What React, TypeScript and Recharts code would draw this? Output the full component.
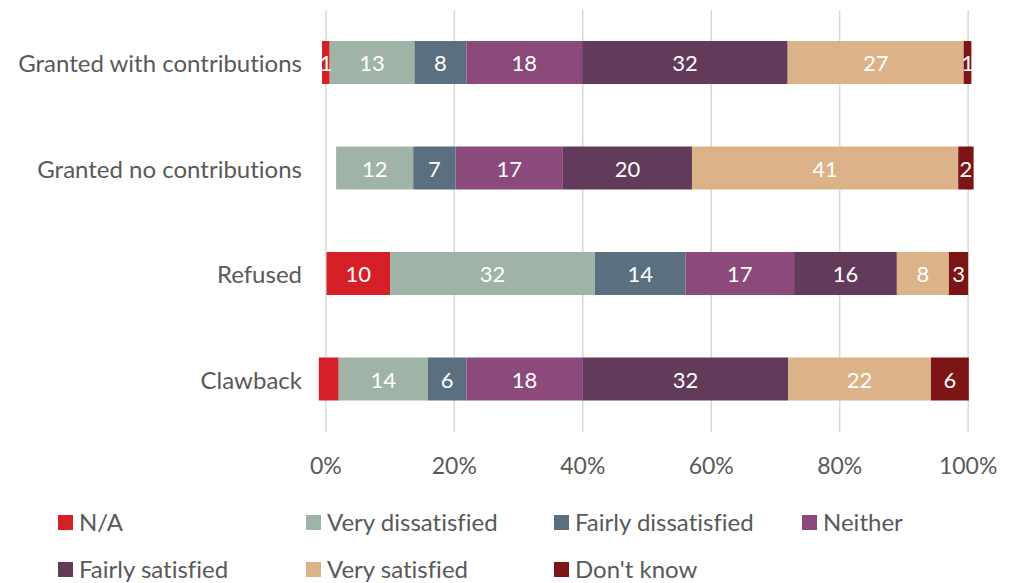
import React from 'react';
import { BarChart, Bar, XAxis, YAxis, CartesianGrid, LabelList } from 'recharts';

const categories = ['Granted with contributions', 'Granted no contributions', 'Refused', 'Clawback'];
// where each bar begins on the axis (bars are slightly offset in the source)
const barStart = [-0.6, 1.6, 0.1, -1.1];
const naValues = [1.2, 0, 9.9, 3.1];
const veryDissatisfied = [13.2, 12.0, 31.9, 13.9];
const fairlyDissatisfied = [8.1, 6.6, 14.1, 6.0];
const neither = [18.0, 16.7, 16.9, 18.1];
const fairlySatisfied = [32.0, 20.1, 16.0, 32.0];
const verySatisfied = [27.4, 41.45, 8.1, 22.2];
const dontKnow = [1.2, 2.4, 3.0, 5.9];
const xTicks = [0, 20, 40, 60, 80, 100];
const xDomain: [number, number] = [-2, 102];

const series = [
  { key: 'na', name: 'N/A', color: '#d52027', values: naValues },
  { key: 'vd', name: 'Very dissatisfied', color: '#a0b3a7', values: veryDissatisfied },
  { key: 'fd', name: 'Fairly dissatisfied', color: '#5a7080', values: fairlyDissatisfied },
  { key: 'ne', name: 'Neither', color: '#8b4a7b', values: neither },
  { key: 'fs', name: 'Fairly satisfied', color: '#623a5a', values: fairlySatisfied },
  { key: 'vs', name: 'Very satisfied', color: '#dcb288', values: verySatisfied },
  { key: 'dk', name: "Don't know", color: '#7d1416', values: dontKnow },
];

// labels that the source chart leaves out
const hiddenLabels = ['Clawback|na'];

const data = categories.map((name, i) => {
  const row: Record<string, string | number> = { name, start: barStart[i] };
  series.forEach((s) => {
    const v = s.values[i];
    row[s.key] = v;
    row[`${s.key}Label`] = !v || hiddenLabels.includes(`${name}|${s.key}`) ? '' : String(Math.round(v));
  });
  return row;
});

const FONT = 'Lato, "Open Sans", sans-serif';
const TEXT = '#595959';
const noLig = { fontVariantLigatures: 'none' as const };

const SegmentLabel = (props: any) => {
  const { x, y, width, height, value } = props;
  if (!value) return null;
  return (
    <text
      x={x + width / 2}
      y={y + height / 2}
      fill="#fff"
      fontSize={22}
      fontFamily={FONT}
      textAnchor="middle"
      dominantBaseline="central"
      style={noLig}
    >
      {value}
    </text>
  );
};

const CategoryTick = (props: any) => {
  const { x, y, payload } = props;
  return (
    <text
      x={x}
      y={y}
      fill={TEXT}
      fontSize={24}
      fontFamily={FONT}
      textAnchor="end"
      dominantBaseline="central"
      style={noLig}
    >
      {payload.value}
    </text>
  );
};

const legendCols = [58, 306, 554, 802];
const legendRows = [515, 562];

const ChartLegend = () => (
  <>
    {series.map((s, i) => (
      <div
        key={s.key}
        style={{
          position: 'absolute',
          left: legendCols[i % 4],
          top: legendRows[Math.floor(i / 4)] - 8,
          display: 'flex',
          alignItems: 'center',
          height: 30,
          lineHeight: '30px',
          fontFamily: FONT,
          fontSize: 24,
          color: TEXT,
          whiteSpace: 'nowrap',
          ...noLig,
        }}
      >
        <span style={{ width: 15, height: 15, background: s.color, marginRight: 6, display: 'inline-block' }} />
        {s.name}
      </div>
    ))}
  </>
);

const gridX = ({ offset }: any) =>
  xTicks.map((t) => offset.left + ((t - xDomain[0]) / (xDomain[1] - xDomain[0])) * offset.width);

export default function App() {
  return (
    <div style={{ position: 'absolute', left: 0, top: 0, width: 1009, height: 583, background: '#fff' }}>
      <BarChart
        width={1009}
        height={583}
        data={data}
        layout="vertical"
        margin={{ top: 10, right: 28, left: 0, bottom: 111 }}
        barSize={43}
      >
        <CartesianGrid horizontal={false} stroke="#d9d9d9" strokeWidth={1.5} verticalCoordinatesGenerator={gridX} />
        <XAxis
          type="number"
          domain={xDomain}
          ticks={xTicks}
          allowDataOverflow
          tickFormatter={(v) => `${v}%`}
          axisLine={false}
          tickLine={false}
          tickMargin={20}
          height={40}
          tick={{ fill: TEXT, fontSize: 23, fontFamily: FONT }}
        />
        <YAxis
          type="category"
          dataKey="name"
          width={313}
          axisLine={false}
          tickLine={false}
          tickMargin={5}
          tick={<CategoryTick />}
        />
        <Bar dataKey="start" stackId="a" fill="transparent" isAnimationActive={false} legendType="none" />
        {series.map((s) => (
          <Bar key={s.key} dataKey={s.key} name={s.name} stackId="a" fill={s.color} isAnimationActive={false}>
            <LabelList dataKey={`${s.key}Label`} content={<SegmentLabel />} />
          </Bar>
        ))}
      </BarChart>
      <ChartLegend />
    </div>
  );
}
